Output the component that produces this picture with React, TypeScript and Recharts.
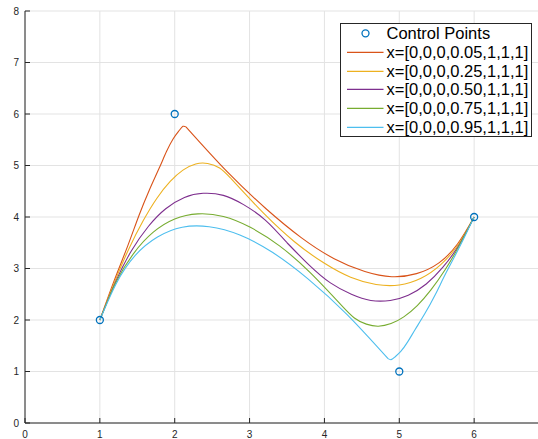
import React from 'react';
import { ComposedChart, Line, Scatter, XAxis, YAxis, CartesianGrid } from 'recharts';

// control polygon
const controlX = [1, 2, 5, 6];
const controlY = [2, 6, 1, 4];

// curves; 21 points each, the 11th is the joint between the two pieces
const curve005X = [1, 1.19, 1.37, 1.52, 1.66, 1.79, 1.89, 1.98, 2.06, 2.11, 2.15, 2.7, 3.22, 3.69, 4.13, 4.54, 4.9, 5.23, 5.53, 5.78, 6];
const curve005Y = [2, 2.76, 3.43, 4.02, 4.52, 4.94, 5.27, 5.52, 5.68, 5.76, 5.75, 4.88, 4.16, 3.6, 3.19, 2.94, 2.84, 2.9, 3.11, 3.48, 4];

const curve025X = [1, 1.2, 1.39, 1.58, 1.76, 1.94, 2.11, 2.28, 2.44, 2.6, 2.75, 3.19, 3.6, 3.99, 4.35, 4.69, 5.0, 5.29, 5.55, 5.79, 6];
const curve025Y = [2, 2.75, 3.39, 3.93, 4.36, 4.69, 4.91, 5.03, 5.04, 4.95, 4.75, 4.07, 3.52, 3.11, 2.83, 2.69, 2.68, 2.81, 3.07, 3.47, 4];

const curve050X = [1, 1.21, 1.42, 1.65, 1.88, 2.13, 2.38, 2.65, 2.92, 3.21, 3.5, 3.8, 4.08, 4.36, 4.62, 4.88, 5.12, 5.36, 5.58, 5.8, 6];
const curve050Y = [2, 2.74, 3.34, 3.82, 4.16, 4.38, 4.46, 4.42, 4.24, 3.94, 3.5, 3.06, 2.72, 2.5, 2.38, 2.38, 2.48, 2.7, 3.02, 3.46, 4];

const curve075X = [1, 1.21, 1.45, 1.71, 2.0, 2.31, 2.65, 3.01, 3.4, 3.81, 4.25, 4.4, 4.56, 4.72, 4.89, 5.06, 5.24, 5.42, 5.61, 5.8, 6];
const curve075Y = [2, 2.72, 3.29, 3.7, 3.96, 4.06, 4.01, 3.8, 3.44, 2.92, 2.25, 2.04, 1.92, 1.88, 1.93, 2.06, 2.28, 2.58, 2.97, 3.44, 4];

const curve095X = [1, 1.22, 1.47, 1.77, 2.1, 2.46, 2.87, 3.31, 3.78, 4.3, 4.85, 4.89, 4.94, 5.02, 5.11, 5.21, 5.34, 5.48, 5.63, 5.81, 6];
const curve095Y = [2, 2.71, 3.25, 3.61, 3.8, 3.81, 3.65, 3.31, 2.8, 2.11, 1.25, 1.23, 1.28, 1.39, 1.57, 1.81, 2.12, 2.49, 2.93, 3.43, 4];

const xTicks = [0, 1, 2, 3, 4, 5, 6];
const yTicks = [0, 1, 2, 3, 4, 5, 6, 7, 8];

const curveNames = [
  'x=[0,0,0,0.05,1,1,1]',
  'x=[0,0,0,0.25,1,1,1]',
  'x=[0,0,0,0.50,1,1,1]',
  'x=[0,0,0,0.75,1,1,1]',
  'x=[0,0,0,0.95,1,1,1]',
];
const curveColors = ['#D95319', '#EDB120', '#7E2F8E', '#77AC30', '#4DBEEE'];

const zip = (xs: number[], ys: number[]) => xs.map((x, i) => ({ x, y: ys[i] }));

const controlData = zip(controlX, controlY);
const curves = [
  zip(curve005X, curve005Y),
  zip(curve025X, curve025Y),
  zip(curve050X, curve050Y),
  zip(curve075X, curve075Y),
  zip(curve095X, curve095Y),
];
// each curve is drawn as two pieces meeting at the joint (index 10)
const JOINT = 10;

const AXIS = '#262626';
const FONT = '"Liberation Sans", Arial, sans-serif';

const YTick = (props: any) => {
  const { x, y, payload } = props;
  return (
    <g>
      <line x1={x} x2={x + 5} y1={y} y2={y} stroke={AXIS} strokeWidth={1} />
      <text x={x - 6} y={y} textAnchor="end" dominantBaseline="central" fontSize={10} fill={AXIS} fontFamily={FONT}>
        {payload.value}
      </text>
    </g>
  );
};

const XTick = (props: any) => {
  const { x, y, payload } = props;
  return (
    <g>
      <line x1={x} x2={x} y1={y} y2={y - 5} stroke={AXIS} strokeWidth={1} />
      <text x={x} y={y + 11} textAnchor="middle" dominantBaseline="central" fontSize={10} fill={AXIS} fontFamily={FONT}>
        {payload.value}
      </text>
    </g>
  );
};

const Ring = (props: any) => {
  const { cx, cy } = props;
  return <circle cx={cx} cy={cy} r={3.5} fill="none" stroke="#0072BD" strokeWidth={1.3} />;
};

const LegendBox = () => {
  const rowH = 18.7;
  const rows = [{ name: 'Control Points', color: '#0072BD', ring: true }].concat(
    curveNames.map((name, i) => ({ name, color: curveColors[i], ring: false }))
  );
  return (
    <div
      style={{
        position: 'absolute',
        left: 340,
        top: 23,
        width: 192,
        height: 114,
        boxSizing: 'border-box',
        border: `1px solid ${AXIS}`,
        background: '#fff',
        fontFamily: FONT,
        fontSize: 16.5,
        color: '#000',
      }}
    >
      {rows.map((r, i) => (
        <div
          key={r.name}
          style={{
            position: 'absolute',
            left: 0,
            top: 10.5 + i * rowH - rowH / 2 - 1,
            height: rowH,
            width: 190,
            lineHeight: `${rowH}px`,
            whiteSpace: 'nowrap',
          }}
        >
          <svg width={44} height={rowH} style={{ position: 'absolute', left: 0, top: 0 }}>
            {r.ring ? (
              <circle cx={24.5} cy={rowH / 2} r={3.5} fill="none" stroke={r.color} strokeWidth={1.3} />
            ) : (
              <line x1={6} x2={42.5} y1={rowH / 2} y2={rowH / 2} stroke={r.color} strokeWidth={1.2} />
            )}
          </svg>
          <span style={{ position: 'absolute', left: 45.5, top: 0 }}>{r.name}</span>
        </div>
      ))}
    </div>
  );
};

export default function App() {
  return (
    <div style={{ position: 'absolute', left: 0, top: 0, width: 538, height: 439, overflow: 'hidden', background: '#fff' }}>
      <ComposedChart width={549} height={439} margin={{ top: 11, right: 0, bottom: 0, left: 0 }}>
        <CartesianGrid stroke="#e3e3e3" strokeWidth={1} />
        <XAxis
          type="number"
          dataKey="x"
          domain={[0, 7]}
          ticks={xTicks}
          allowDataOverflow
          height={16}
          tickSize={0}
          tickMargin={0}
          tickLine={false}
          tick={<XTick />}
          axisLine={{ stroke: AXIS }}
          interval={0}
        />
        <YAxis
          type="number"
          dataKey="y"
          domain={[0, 8]}
          ticks={yTicks}
          allowDataOverflow
          width={25}
          tickSize={0}
          tickMargin={0}
          tickLine={false}
          tick={<YTick />}
          axisLine={{ stroke: AXIS }}
          interval={0}
        />
        <Scatter name="Control Points" data={controlData} dataKey="y" shape={<Ring />} isAnimationActive={false} />
        {curves.flatMap((d, i) =>
          [d.slice(0, JOINT + 1), d.slice(JOINT)].map((piece, k) => (
            <Line
              key={`${curveNames[i]}-${k}`}
              name={curveNames[i]}
              data={piece}
              dataKey="y"
              type="natural"
              stroke={curveColors[i]}
              strokeWidth={1.1}
              dot={false}
              activeDot={false}
              isAnimationActive={false}
            />
          ))
        )}
      </ComposedChart>
      <LegendBox />
    </div>
  );
}
